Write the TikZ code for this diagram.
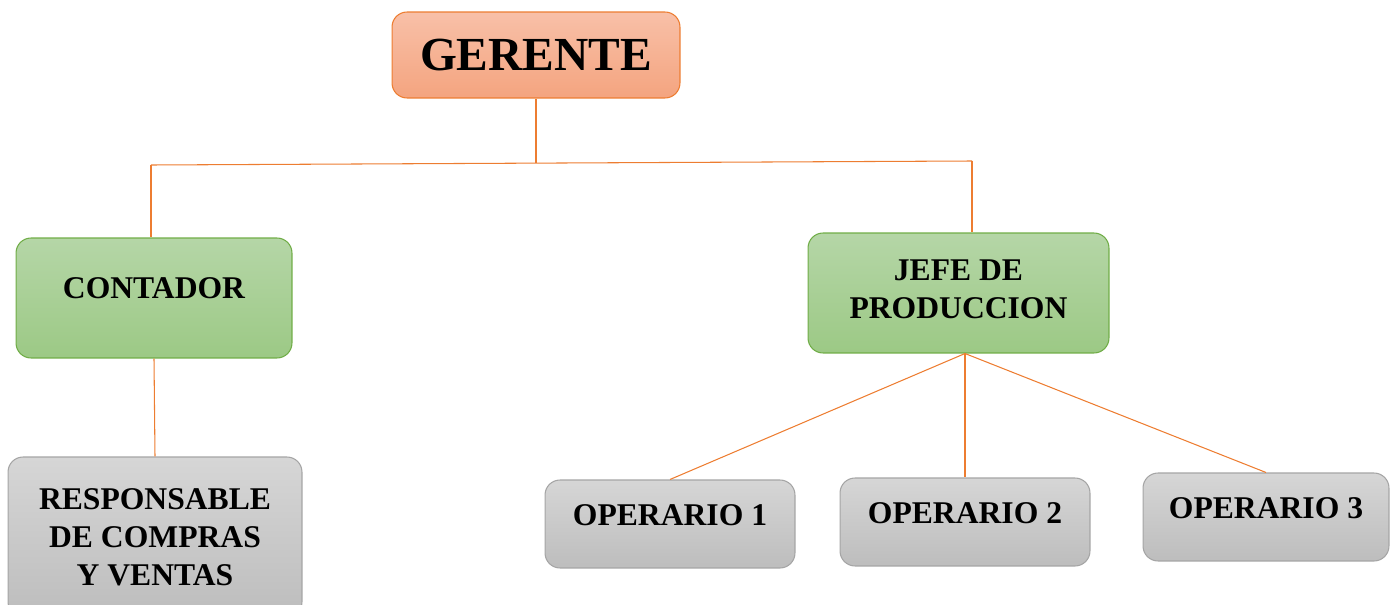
\documentclass[tikz,border=0pt]{standalone}
\usepackage{fontspec}
\setmainfont{Liberation Serif}
\usepackage{tikz}
\usetikzlibrary{positioning}

\definecolor{naranjaA}{HTML}{F8C0A8}
\definecolor{naranjaB}{HTML}{F4A47F}
\definecolor{naranjaL}{HTML}{ED7D31}
\definecolor{verdeA}{HTML}{B5D6A7}
\definecolor{verdeB}{HTML}{9CC985}
\definecolor{verdeL}{HTML}{70AD47}
\definecolor{grisA}{HTML}{D6D6D6}
\definecolor{grisB}{HTML}{BDBDBD}
\definecolor{grisL}{HTML}{A5A5A5}

\begin{document}
\begin{tikzpicture}[x=0.02cm,y=-0.02cm,
    caja/.style={rounded corners=0.3cm,line width=0.6pt,inner sep=0pt},
    jefe/.style={caja,draw=naranjaL,top color=naranjaA,bottom color=naranjaB},
    mando/.style={caja,draw=verdeL,top color=verdeA,bottom color=verdeB},
    base/.style={caja,draw=grisL,top color=grisA,bottom color=grisB},
    texto/.style={font=\fontsize{18}{21.6}\selectfont\bfseries,align=center},
    linea/.style={draw=naranjaL,line width=0.6pt}]
    \useasboundingbox (0,0) rectangle (1390,605);
    \clip (0,0) rectangle (1390,605);

    % cajas
    \node[jefe,minimum width=5.76cm,minimum height=1.72cm,
        label={[font=\fontsize{27}{32}\selectfont\bfseries]center:GERENTE}] (ger) at (536,55) {};
    \node[mando,minimum width=5.52cm,minimum height=2.4cm,
        label={[texto,yshift=0.2cm]center:CONTADOR}] (conta) at (154,298) {};
    \node[mando,minimum width=6.02cm,minimum height=2.4cm,
        label={[texto,yshift=0.07cm]center:JEFE DE\\PRODUCCION}] (prod) at (958.5,293) {};
    \node[base,minimum width=5.88cm,minimum height=3.2cm,
        label={[texto]center:RESPONSABLE\\DE COMPRAS\\Y VENTAS}] (resp) at (155,537) {};
    \node[base,minimum width=5cm,minimum height=1.76cm,
        label={[texto,yshift=0.18cm]center:OPERARIO 1}] (op1) at (670,524) {};
    \node[base,minimum width=5cm,minimum height=1.76cm,
        label={[texto,yshift=0.18cm]center:OPERARIO 2}] (op2) at (965,522) {};
    \node[base,minimum width=4.92cm,minimum height=1.76cm,
        label={[texto,yshift=0.18cm]center:OPERARIO 3}] (op3) at (1266,517) {};

    % conectores
    \coordinate (barraI) at (151,165);
    \coordinate (barraM) at (536,163);
    \coordinate (barraD) at (972,161);
    \coordinate (bajo) at (op2.north |- prod.south);
    \draw[linea] (ger.south) -- (barraM);
    \draw[linea] (barraI) -- (barraD);
    \draw[linea] (barraI) -- (barraI |- conta.north);
    \draw[linea] (barraD) -- (barraD |- prod.north);
    \draw[linea] (conta.south) -- (resp.north);
    \draw[linea] (bajo) -- (op1.north);
    \draw[linea] (bajo) -- (op2.north);
    \draw[linea] (bajo) -- (op3.north);
\end{tikzpicture}
\end{document}
